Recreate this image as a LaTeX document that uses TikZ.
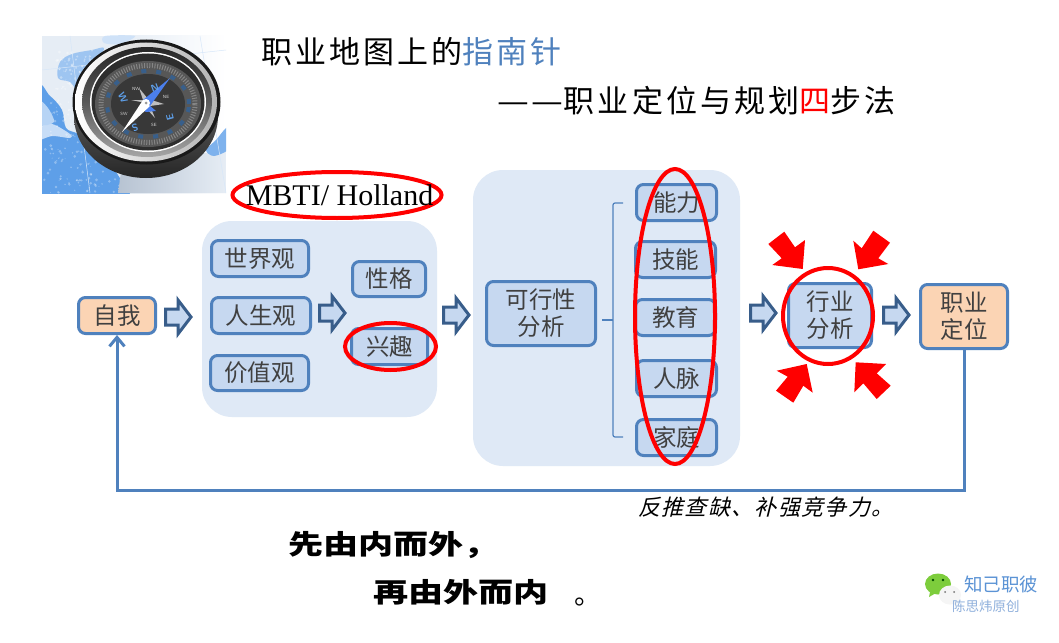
\documentclass[tikz,border=0pt]{standalone}
\usepackage{fontspec}
\setmainfont{Liberation Serif}
\newfontfamily\cjk{Noto Sans CJK SC}
\newfontfamily\cjkit[FakeSlant=0.25]{Noto Sans CJK SC}
\newfontfamily\cjkwide[FakeStretch=1.3]{Noto Sans CJK SC}
\usetikzlibrary{shapes.geometric,arrows.meta}
\definecolor{boxline}{HTML}{4F81BD}
\definecolor{boxfill}{HTML}{C6D8F0}
\definecolor{panelfill}{HTML}{DFE9F6}
\definecolor{orangefill}{HTML}{FBD4B4}
\definecolor{arrline}{HTML}{385D8A}
\definecolor{boxtext}{HTML}{404040}
\definecolor{titleblue}{HTML}{4F81BD}
\definecolor{wxblue}{HTML}{5B93D5}
\definecolor{wxlight}{HTML}{8FB0DC}
\definecolor{mapblue}{HTML}{5E9FE8}
\definecolor{mappale}{HTML}{E6EDF5}
\definecolor{mapshade}{HTML}{B7C3D2}
\tikzset{
  panel/.style={fill=panelfill,rounded corners=30pt,minimum width=#1,inner sep=0pt},
  itembox/.style={draw=boxline,line width=3pt,fill=boxfill,rounded corners=7pt,inner sep=0pt,
    text=boxtext,font=\fontsize{23.5}{27}\selectfont\cjk,align=center},
  peachbox/.style={itembox,fill=orangefill},
  flowarrow/.style={draw=arrline,line width=3pt,fill=boxfill,miter limit=10},
  redring/.style={ellipse,draw=red,line width=4pt,inner sep=0pt},
  redarrow/.style={fill=red,draw=none},
  loopline/.style={draw=boxline,line width=3pt},
  bracket/.style={draw=boxline,line width=1.2pt,rounded corners=2pt},
  bigdir/.style={text=mapblue,inner sep=0pt,font=\fontsize{10}{10}\selectfont\sffamily\bfseries},
  smalldir/.style={text=black!15,inner sep=0pt,font=\fontsize{4.5}{5}\selectfont\sffamily}
}
\newcommand{\flowarr}[2]{\draw[flowarrow,shift={(#1,#2)}] (1.5,-8) -- (14,-8) -- (14,-17) -- (27,0) -- (14,17) -- (14,8) -- (1.5,8) -- cycle;}
\newcommand{\dashcell}{\makebox[33.3pt]{\scalebox{1.15}[1]{—}}}
\begin{document}
\begin{tikzpicture}[x=1pt,y=-1pt]
\useasboundingbox (0,0) rectangle (1059,642);
\fill[white] (0,0) rectangle (1059,642);

% compass picture
\begin{scope}
\clip (42,36) rectangle (226,193);
\fill[mappale] (42,36) rectangle (226,193);
\shade[left color=mappale,right color=white] (120,36) rectangle (226,193);
% blue land, upper left
\fill[mapblue!60!white] plot[smooth cycle,tension=.6] coordinates {(60,62)(72,54)(92,50)(104,48)(98,60)(92,78)(80,92)(70,82)(58,78)};
\fill[mapblue!30!white] plot[smooth cycle] coordinates {(105,36)(135,36)(120,44)(104,43)};
% blue land, left and lower left
\fill[mapblue] plot[smooth cycle,tension=.6] coordinates {(38,92)(50,96)(62,110)(66,128)(78,134)(90,146)(104,158)(118,175)(125,200)(38,200)};
\fill[mapblue!35!white] plot[smooth cycle] coordinates {(38,128)(52,124)(70,134)(70,138)(52,136)(38,140)};
\fill[mapblue!45!white] plot[smooth cycle] coordinates {(38,100)(48,108)(54,122)(40,124)};
\pgfmathsetseed{4217}
\foreach \i in {1,...,220}{
  \pgfmathsetmacro{\px}{42+rnd*80}
  \pgfmathsetmacro{\py}{100+rnd*93}
  \pgfmathsetmacro{\pr}{.4+rnd*1.1}
  \fill[white,opacity=.3] (\px,\py) circle (\pr pt);
}
\foreach \i in {1,...,90}{
  \pgfmathsetmacro{\px}{56+rnd*46}
  \pgfmathsetmacro{\py}{50+rnd*40}
  \pgfmathsetmacro{\pr}{.4+rnd*1.2}
  \fill[white,opacity=.35] (\px,\py) circle (\pr pt);
}
% grey-blue shadow, lower right
\shade[left color=mapshade,right color=mappale] (118,193) -- (122,165) -- (226,150) -- (226,193) -- cycle;
\fill[mapblue!80!white] plot[smooth cycle] coordinates {(206,150)(216,140)(226,128)(232,128)(230,148)(214,156)};
% thin grid lines
\draw[color=mapblue!25!white,line width=.5pt] (42,70) -- (226,50) (70,36) -- (90,193) (200,36) -- (226,193);
% body
\shade[top color=black!50,bottom color=black!85] (146,116) ellipse [x radius=72pt,y radius=62pt];
\fill[black!90] (146.5,102) ellipse [x radius=74pt,y radius=62.5pt];
\shade[left color=white,right color=black!30] (146,102) ellipse [x radius=71pt,y radius=59.5pt];
\shade[top color=black!85,bottom color=black!35,middle color=black!65] (147,102) ellipse [x radius=65pt,y radius=55pt];
\fill[white] (148,102) ellipse [x radius=58pt,y radius=50pt];
\fill[black!82] (148,102) ellipse [x radius=56.5pt,y radius=48.5pt];
% dial
\fill[black!66] (148,104) ellipse [x radius=53pt,y radius=43pt];
\draw[black!48,line width=5pt,dash pattern=on 1pt off 1.6pt] (148,104) ellipse [x radius=47pt,y radius=38.5pt];
\draw[mapblue!60!black,line width=4pt,dash pattern=on 5pt off 10pt] (148,104) ellipse [x radius=41pt,y radius=33pt];
\fill[black!78] (148,104) ellipse [x radius=37pt,y radius=30pt];
% needles
\fill[black!25] (146,103) -- (131,100) -- (143,100) -- (139,88) -- (148,99) -- (164,104) -- (150,106) -- (155,118) -- (146,108) -- cycle;
\fill[mapblue!80!blue] (146,112) -- (139,108) -- (149,105) -- (156,111) -- cycle;
\fill[mapblue!80!blue] (170,78) -- (150,106) -- (143,100) -- cycle;
\fill[white] (122,132) -- (143,100) -- (150,106) -- cycle;
\fill[white] (146,103) circle (4pt);
\fill[black!40] (146,103) circle (1.5pt);
% dial letters
\node[bigdir,rotate=-65] (cw) at (123,98) {W};
\node[bigdir,rotate=20] (cn) at (155,88) {N};
\node[bigdir,rotate=105] (ce) at (170,117) {E};
\node[bigdir,rotate=200] (cs) at (135,128) {S};
\node[smalldir] (cnw) at (136,89) {NW};
\node[smalldir] (cne) at (166,97) {NE};
\node[smalldir] (csw) at (124,114) {SW};
\node[smalldir] (cse) at (154,125) {SE};
\end{scope}

% titles
\node[anchor=west,inner sep=0pt,font=\fontsize{31}{36}\selectfont\cjk] (title1) at (261,52)
  {\addfontfeature{LetterSpace=10}职业地图上的\textcolor{titleblue}{指南针}};
\node[anchor=west,inner sep=0pt,font=\fontsize{31}{36}\selectfont\cjk] (title2) at (497,101)
  {\dashcell\dashcell\addfontfeature{LetterSpace=10}职业定位与规划\textcolor{red}{四}步法};

% panels
\node[panel=235pt,minimum height=196pt] (panelA) at (319.5,319) {};
\node[panel=267pt,minimum height=296pt] (panelB) at (606.5,318) {};

% left boxes
\node[peachbox,minimum width=77pt,minimum height=36pt] (self) at (117,315.5) {自我};
\node[itembox,minimum width=97pt,minimum height=36pt] (world) at (260,258.5) {世界观};
\node[itembox,minimum width=99pt,minimum height=36pt] (life) at (261,315.5) {人生观};
\node[itembox,minimum width=98pt,minimum height=35pt] (value) at (259.5,373) {价值观};
\node[itembox,minimum width=73pt,minimum height=35pt] (trait) at (389,279) {性格};
\node[itembox,minimum width=76pt,minimum height=36pt] (interest) at (389.5,346.5) {兴趣};

% middle boxes
\node[itembox,minimum width=109pt,minimum height=64pt] (feas) at (541,313.5) {可行性\\分析};
\node[itembox,minimum width=80pt,minimum height=36pt] (abil) at (676.5,202.5) {能力};
\node[itembox,minimum width=80pt,minimum height=36pt] (skill) at (675.5,259.5) {技能};
\node[itembox,minimum width=80pt,minimum height=36pt] (edu) at (675.5,317.5) {教育};
\node[itembox,minimum width=80pt,minimum height=36pt] (net) at (676.5,378.5) {人脉};
\node[itembox,minimum width=80pt,minimum height=36pt] (home) at (676.5,437.5) {家庭};

% right boxes
\node[itembox,minimum width=83pt,minimum height=64pt] (ind) at (830,315.5) {行业\\分析};
\node[peachbox,minimum width=87pt,minimum height=64pt] (pos) at (964,316.5) {职业\\定位};

% bracket
\coordinate (bmid) at (602,320);
\coordinate (btop) at (623,203);
\coordinate (bbot) at (623,437);
\draw[bracket] (btop) -- (613,203) -- (613,437) -- (bbot);
\draw[bracket] (bmid) -- (613,320);

% block arrows
\flowarr{164}{317}
\flowarr{318}{313}
\flowarr{442}{315}
\flowarr{749}{313}
\flowarr{882}{315}

% feedback line
\draw[loopline,-{Straight Barb[length=9pt,width=15pt]}] (pos.south) -- ++(0,140) -| (self.south);

% red rings
\node[redring,minimum width=209pt,minimum height=46pt] (ringM) at (337,195) {};
\node[redring,minimum width=91pt,minimum height=47pt] (ringI) at (390.5,346.5) {};
\node[redring,minimum width=80pt,minimum height=295pt] (ringS) at (675,316.5) {};
\node[redring,minimum width=90pt,minimum height=96pt] (ringD) at (828,316) {};

% red arrows
\fill[redarrow] (802.7,269) -- (805,240) -- (795,247.3) -- (784.3,231.7) -- (768.3,244) -- (781.7,258.3) -- (772.3,265) -- cycle;
\fill[redarrow] (858.3,269.3) -- (853.3,240.7) -- (861.7,248.3) -- (873.3,230.7) -- (890,242.7) -- (878.3,258.3) -- (888.3,264) -- cycle;
\fill[redarrow] (806.7,364) -- (776.7,370.7) -- (787.7,376.7) -- (776,390.7) -- (793.3,402.7) -- (803.3,385.7) -- (812.7,392.7) -- cycle;
\fill[redarrow] (855.7,362.3) -- (886,364) -- (876.7,373.3) -- (890.7,385.7) -- (876.7,399) -- (863.3,383.3) -- (854.3,392.3) -- cycle;

% labels
\node[inner sep=0pt,text=black,font=\fontsize{30}{36}\selectfont] (mbti) at (339.5,195) {MBTI/ Holland};
\node[anchor=west,inner sep=0pt,text=black,font=\fontsize{22}{26}\selectfont\cjkit] (note) at (638,507) {\addfontfeature{LetterSpace=6}反推查缺、补强竞争力。};
\node[anchor=west,inner sep=0pt,text=black,font=\fontsize{27}{32}\selectfont\cjkwide\bfseries] (in1) at (288,545) {先由内而外，};
\node[anchor=west,inner sep=0pt,text=black,font=\fontsize{27}{32}\selectfont\cjkwide\bfseries] (in2) at (373,592) {再由外而内};
\node[anchor=base west,inner sep=0pt,text=black,font=\fontsize{27}{32}\selectfont\cjk] (in3) at (574.5,604) {。};

% watermark
\fill[color={rgb,255:red,125;green,205;blue,60}] (938,584) ellipse [x radius=13pt,y radius=10.5pt];
\fill[color={rgb,255:red,125;green,205;blue,60}] (930,592) -- (929,597) -- (936,593) -- cycle;
\fill[color=black!70!green] (933,580) circle (1.3pt) (943,580) circle (1.3pt);
\fill[color=black!4] (950,595) ellipse [x radius=11pt,y radius=9.5pt];
\fill[color=black!4] (954,602) -- (957,607) -- (958,601) -- cycle;
\fill[color=black!55] (945,592) circle (1pt) (954,592) circle (1pt);
\node[anchor=west,inner sep=0pt,text=wxblue,font=\fontsize{18.5}{22}\selectfont\cjk] (wx1) at (964,584) {知己职彼};
\node[anchor=west,inner sep=0pt,text=wxlight,font=\fontsize{13.5}{16}\selectfont\cjk] (wx2) at (952,606) {陈思炜原创};
\end{tikzpicture}
\end{document}
